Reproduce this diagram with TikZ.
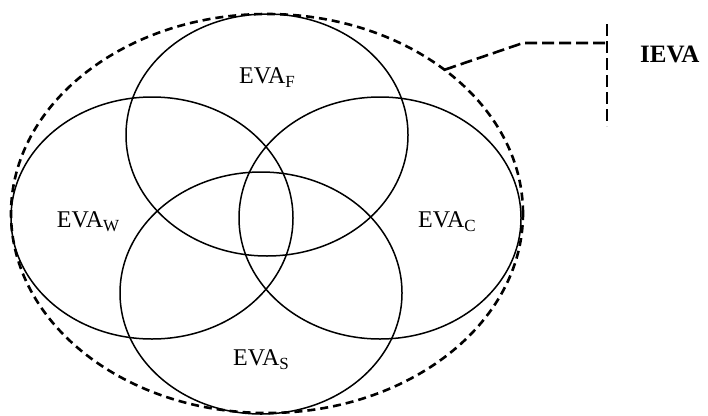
\documentclass[tikz,border=0pt]{standalone}
\usepackage{fontspec}
\setmainfont{Liberation Serif}
\usetikzlibrary{shapes.geometric}
\newcommand{\evasub}[1]{EVA\raisebox{-4pt}{\fontsize{17}{17}\selectfont #1}}

\begin{document}
\begin{tikzpicture}[x=1pt, y=-1pt, font=\fontsize{24}{28}\selectfont]
  \useasboundingbox (0,0) rectangle (708,415);
  \tikzset{evaset/.style={ellipse, draw, line width=1.5pt, inner sep=0pt, outer sep=0pt,
                          minimum width=282pt, minimum height=242pt},
           bigdash/.style={line width=2.6pt, dash pattern=on 8pt off 5pt},
           linkdash/.style={line width=2.6pt, dash pattern=on 12pt off 5pt}}
  % ---- the four sets: name/centre x/centre y/label x/label baseline ----
  \foreach \n/\x/\y/\lx/\ly in {F/267/135/267/83, W/152/218/88/227, C/380/218/447/227, S/261/293/261/365} {
    \node[evaset] (eva\n) at (\x,\y) {};
    \node[anchor=base, inner sep=0pt] (lab\n) at (\lx,\ly) {\evasub{\n}};
  }
  % ---- dashed hull round all of them ----
  \node[ellipse, draw, bigdash, inner sep=0pt, outer sep=0pt,
        minimum width=512pt, minimum height=399pt] (ieva) at (267,213.5) {};
  % ---- pointer to the IEVA name ----
  \coordinate (bend) at (523,43);
  \coordinate (tee) at (607,43);
  \coordinate (teetop) at (607,24);
  \coordinate (teebot) at (607,126);
  \draw[linkdash] (ieva.39.5) -- (bend) -- (tee);
  \draw[linkdash] (teetop) -- (teebot);
  \node[anchor=base west, inner sep=0pt, font=\fontsize{25}{30}\selectfont\bfseries] (ievalab) at (640,62) {IEVA};
\end{tikzpicture}
\end{document}
